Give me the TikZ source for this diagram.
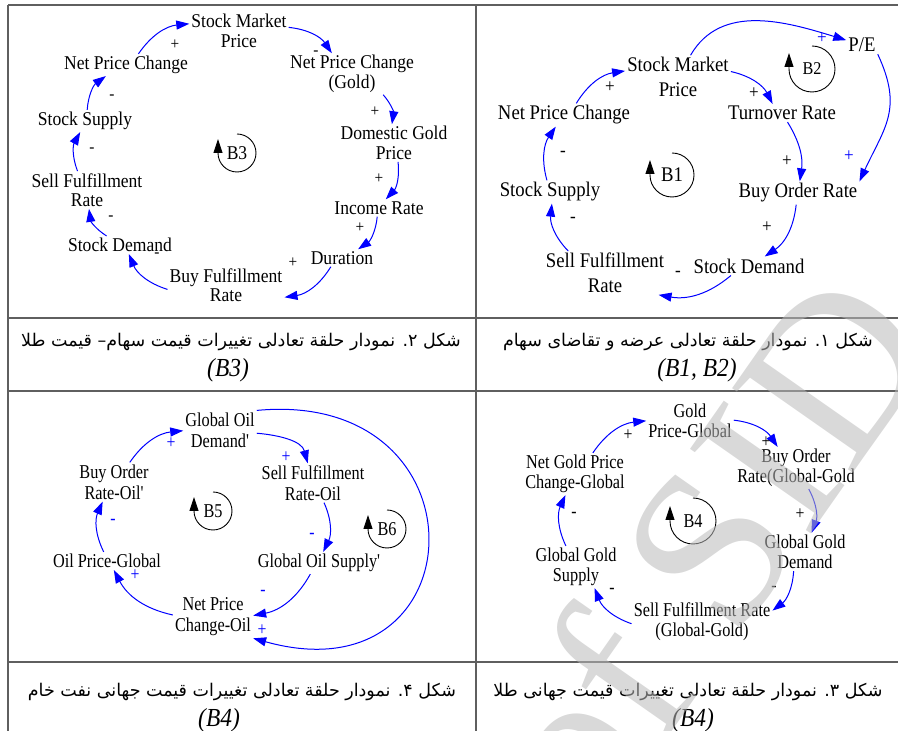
\documentclass[tikz,border=0pt]{standalone}
\usepackage{fontspec}
\setmainfont{Liberation Serif}
\newfontfamily\varfontA[FakeStretch=0.9]{Liberation Serif}
\newfontfamily\varfontB[FakeStretch=0.83]{Liberation Serif}
\newfontfamily\capfont[FakeStretch=0.9]{Liberation Serif}
\newfontfamily\arabicfont[Script=Arabic]{DejaVu Sans}
\TeXXeTstate=1
\usepackage{tikz}
\usetikzlibrary{positioning,calc,arrows.meta}

\definecolor{rulegray}{RGB}{95,95,95}
\definecolor{wmgray}{RGB}{185,185,185}

\tikzset{
	varA/.style={font=\varfontA\fontsize{19.5}{19.5}\selectfont, align=center, inner sep=2pt},
	varB/.style={font=\varfontA\fontsize{20.8}{24.5}\selectfont, align=center, inner sep=2pt},
	varC/.style={font=\varfontB\fontsize{19.6}{21}\selectfont, align=center, inner sep=2pt},
	varD/.style={font=\varfontB\fontsize{19.6}{20}\selectfont, align=center, inner sep=2pt},
	sgnA/.style={font=\varfontA\fontsize{17}{17}\selectfont, inner sep=0pt},
	sgnB/.style={font=\varfontA\fontsize{19}{19}\selectfont, inner sep=0pt},
	sgnC/.style={font=\varfontB\fontsize{19}{19}\selectfont, inner sep=0pt},
	link/.style={draw=blue, line width=1pt, -{Triangle[length=13pt, width=9pt]}},
	loopar/.style={draw=black, line width=0.9pt, -{Triangle[length=14pt, width=9pt]}},
	rule/.style={draw=rulegray, line width=1.6pt},
	capfa/.style={font=\arabicfont\fontsize{17.5}{20}\selectfont, inner sep=0pt},
	capen/.style={font=\capfont\itshape\fontsize{26}{26}\selectfont, inner sep=0pt},
	wmark/.style={font=\fontsize{225}{225}\selectfont, text=wmgray, text opacity=0.55, rotate=55, inner sep=0pt}
}

\begin{document}
\begin{tikzpicture}[x=1pt, y=1pt]
	\useasboundingbox (0, 0) rectangle (898, 731);
	\draw [rule] (8, 726) -- (898, 726);
	\draw [rule] (8, 726) -- (8, 0);
	\draw [rule] (476, 726) -- (476, 0);
	\draw [rule] (8, 413) -- (898, 413);
	\draw [rule] (8, 340) -- (898, 340);
	\draw [rule] (8, 69) -- (898, 69);

	\node [varA] (SMP1) at (239, 700) {Stock Market\\Price};
	\node [varA] (NPG1) at (352, 657) {Net Price Change\\(Gold)};
	\node [varA] (DGP1) at (394, 588) {Domestic Gold\\Price};
	\node [varA] (IR1) at (379, 523) {Income Rate};
	\node [varA] (DUR1) at (342, 473) {Duration};
	\node [varA] (BFR1) at (226, 446) {Buy Fulfillment\\Rate};
	\node [varA] (SD1) at (120, 486) {Stock Demand};
	\node [varA] (SFR1) at (87, 541) {Sell Fulfillment\\Rate};
	\node [varA] (SS1) at (85, 610) {Stock Supply};
	\node [varA] (NPC1) at (126, 666) {Net Price Change};
	\path [link] (NPC1) to[bend left=25] (SMP1);
	\path [link] (SMP1) to[bend left=25] (NPG1);
	\path [link] (NPG1) to[bend left=25] (DGP1);
	\path [link] (DGP1) to[bend left=25] (IR1);
	\path [link] (IR1) to[bend left=25] (DUR1);
	\path [link] (DUR1) to[bend left=25] (BFR1);
	\path [link] (BFR1) to[bend left=25] (SD1);
	\path [link] (SD1) to[bend left=25] (SFR1);
	\path [link] (SFR1) to[bend left=25] (SS1);
	\path [link] (SS1) to[bend left=25] (NPC1);
	\node [sgnA] (SMP1s) at (175, 686) {+};
	\node [sgnA] (NPG1s) at (316, 678) {-};
	\node [sgnA] (DGP1s) at (375, 619) {+};
	\node [sgnA] (IR1s) at (379, 552) {+};
	\node [sgnA] (DUR1s) at (360, 503) {+};
	\node [sgnA] (BFR1s) at (293, 468) {+};
	\node [sgnA] (SD1s) at (157, 476) {-};
	\node [sgnA] (SFR1s) at (111, 513) {-};
	\node [sgnA] (SS1s) at (92, 581) {-};
	\node [sgnA] (NPC1s) at (112, 634) {-};
	\node [varA] (B3) at (237, 578) {B3};
	\draw [loopar] ([yshift=19pt]B3.center) arc [start angle=90, end angle=-180, radius=19pt] -- ++(0, 14);

	\node [varB] (SMP2) at (678, 654) {Stock Market\\Price};
	\node [varB] (TO2) at (782, 618) {Turnover Rate};
	\node [varB] (PE2) at (862, 686) {P/E};
	\node [varB] (BOR2) at (798, 538) {Buy Order Rate};
	\node [varB] (SD2) at (749, 465) {Stock Demand};
	\node [varB] (SFR2) at (605, 458) {Sell Fulfillment\\Rate};
	\node [varB] (SS2) at (550, 539) {Stock Supply};
	\node [varB] (NPC2) at (564, 616) {Net Price Change};
	\path [link] (NPC2) to[bend left=25] (SMP2);
	\path [link] (SMP2) to[bend left=25] (TO2);
	\path [link] (SMP2) to[out=60, in=163] (PE2);
	\path [link] (TO2) to[bend left=20] (BOR2);
	\path [link] (PE2.south east) to[out=-65, in=65, looseness=1.2] (BOR2.north east);
	\path [link] (BOR2) to[bend left=25] (SD2);
	\path [link] (SD2) to[bend left=25] (SFR2);
	\path [link] (SFR2) to[bend left=25] (SS2);
	\path [link] (SS2) to[bend left=25] (NPC2);
	\node [sgnB] (SMP2s) at (610, 644) {+};
	\node [sgnB] (TO2s) at (754, 638) {+};
	\node [sgnB, text=blue] (PE2s) at (822, 693) {+};
	\node [sgnB] (BOR2s) at (787, 570) {+};
	\node [sgnB, text=blue] (BOR2t) at (849, 575) {+};
	\node [sgnB] (SD2s) at (767, 504) {+};
	\node [sgnB] (SFR2s) at (678, 457) {-};
	\node [sgnB] (SS2s) at (573, 511) {-};
	\node [sgnB] (NPC2s) at (563, 577) {-};
	\node [varB] (B1) at (672, 556) {B1};
	\draw [loopar] ([yshift=22pt]B1.center) arc [start angle=90, end angle=-180, radius=22pt] -- ++(0, 15);
	\node [varB, font=\varfontA\fontsize{18}{18}\selectfont] (B2) at (812, 662) {B2};
	\draw [loopar] ([yshift=23pt]B2.center) arc [start angle=90, end angle=-180, radius=23pt] -- ++(0, 16);

	\node [varC] (GOD3) at (220, 301) {Global Oil\\Demand'};
	\node [varC] (SFR3) at (313, 248) {Sell Fulfillment\\Rate-Oil};
	\node [varC] (GOS3) at (319, 168) {Global Oil Supply'};
	\node [varC] (NPC3) at (213, 114) {Net Price\\Change-Oil};
	\node [varC] (OPG3) at (107, 170) {Oil Price-Global};
	\node [varC] (BOR3) at (114, 249) {Buy Order\\Rate-Oil'};
	\path [link] (BOR3) to[bend left=25] (GOD3);
	\path [link] (GOD3) to[out=-5, in=105] (SFR3);
	\path [link] (SFR3) to[bend left=25] (GOS3);
	\path [link] (GOS3) to[bend left=25] (NPC3);
	\path [link] (NPC3) to[bend left=25] (OPG3);
	\path [link] (OPG3) to[bend left=25] (BOR3);
	\path [link] (GOD3.north east) .. controls +(234, 22) and +(226, -63) .. (NPC3.south east);
	\node [sgnC, text=blue] (GOD3s) at (171, 288) {+};
	\node [sgnC, text=blue] (SFR3s) at (286, 274) {+};
	\node [sgnC, text=blue] (GOS3s) at (312, 195) {-};
	\node [sgnC, text=blue] (NPC3s) at (263, 138) {-};
	\node [sgnC, text=blue] (NPC3t) at (262, 101) {+};
	\node [sgnC, text=blue] (OPG3s) at (135, 156) {+};
	\node [sgnC, text=blue] (BOR3s) at (113, 209) {-};
	\node [varC] (B5) at (213, 220) {B5};
	\draw [loopar] ([yshift=19pt]B5.center) arc [start angle=90, end angle=-180, radius=19pt] -- ++(0, 14);
	\node [varC] (B6) at (387, 202) {B6};
	\draw [loopar] ([yshift=19pt]B6.center) arc [start angle=90, end angle=-180, radius=19pt] -- ++(0, 14);

	\node [varD] (GPG4) at (690, 310) {Gold\\Price-Global};
	\node [varD] (BOR4) at (796, 263) {Buy Order\\Rate(Global-Gold};
	\node [varD] (GGD4) at (805, 179) {Global Gold\\Demand};
	\node [varD] (SFR4) at (702, 109) {Sell Fulfillment Rate\\(Global-Gold)};
	\node [varD] (GGS4) at (576, 164) {Global Gold\\Supply};
	\node [varD] (NGP4) at (575, 257) {Net Gold Price\\Change-Global};
	\path [link] (NGP4) to[bend left=25] (GPG4);
	\path [link] (GPG4) to[bend left=25] (BOR4);
	\path [link] (BOR4) to[bend left=25] (GGD4);
	\path [link] (GGD4) to[bend left=25] (SFR4);
	\path [link] (SFR4) to[bend left=25] (GGS4);
	\path [link] (GGS4) to[bend left=25] (NGP4);
	\node [sgnC] (GPG4s) at (628, 296) {+};
	\node [sgnC] (BOR4s) at (766, 289) {+};
	\node [sgnC] (GGD4s) at (800, 217) {+};
	\node [sgnC] (SFR4s) at (774, 142) {-};
	\node [sgnC] (GGS4s) at (612, 140) {-};
	\node [sgnC] (NGP4s) at (574, 216) {-};
	\node [varD] (B4) at (693, 210) {B4};
	\draw [loopar] ([yshift=23pt]B4.center) arc [start angle=90, end angle=-180, radius=23pt] -- ++(0, 15);

	\node [capfa] (C2a) at (241, 389) {\beginR شکل ۲. نمودار حلقة تعادلی تغییرات قیمت سهام– قیمت طلا\endR};
	\node [capen] (C2b) at (228, 361) {(B3)};
	\node [capfa] (C1a) at (688, 389) {\beginR شکل ۱. نمودار حلقة تعادلی عرضه و تقاضای سهام\endR};
	\node [capen] (C1b) at (697, 361) {(B1, B2)};
	\node [capfa] (C4a) at (242, 39) {\beginR شکل ۴. نمودار حلقة تعادلی تغییرات قیمت جهانی نفت خام\endR};
	\node [capen] (C4b) at (219, 11) {(B4)};
	\node [capfa] (C3a) at (688, 39) {\beginR شکل ۳. نمودار حلقة تعادلی تغییرات قیمت جهانی طلا\endR};
	\node [capen] (C3b) at (693, 11) {(B4)};

	\node [wmark] (WM) at (705, 182) {of SID};
\end{tikzpicture}
\end{document}
